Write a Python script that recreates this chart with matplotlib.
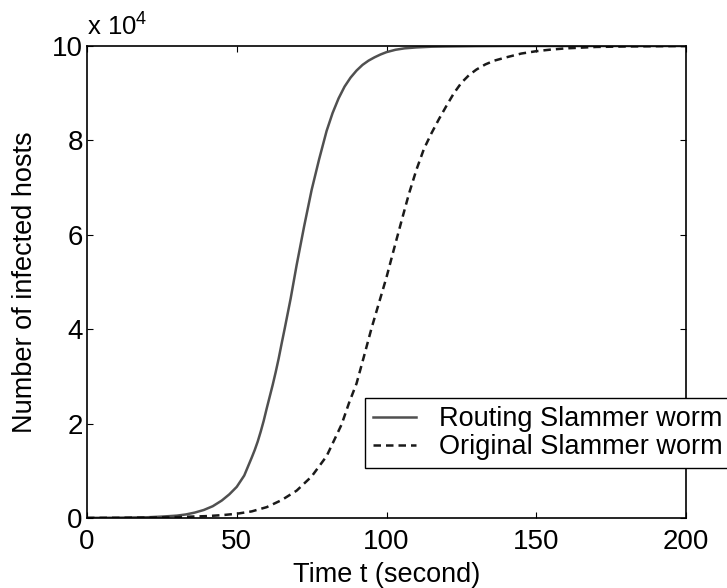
import matplotlib
matplotlib.use("Agg")
import matplotlib.pyplot as plt
from matplotlib.ticker import FuncFormatter

plt.rcParams['font.family'] = ['Liberation Sans', 'DejaVu Sans']
plt.rcParams['mathtext.fontset'] = 'custom'
plt.rcParams['mathtext.rm'] = 'Liberation Sans'
plt.rcParams['mathtext.it'] = 'Liberation Sans'

# ---- data ----
t_routing = [0, 10, 20, 25, 30, 33, 36, 39, 42, 45, 47.5, 50, 52.5, 55, 56, 57, 58, 59,
             60, 61, 62, 63, 64, 65, 66, 67, 68, 70, 72.5, 75, 77.5, 80, 82, 84, 86, 88,
             90, 92, 94, 96, 98, 100, 103, 106, 110, 115, 120, 130, 140, 160, 180, 200]
hosts_routing = [20, 60, 150, 300, 500, 750, 1150, 1700, 2500, 3700, 5000, 6600, 9000,
                 12800, 14400, 16200, 18300, 20600, 23200, 25700, 28200, 30900, 33800,
                 37000, 40100, 43300, 46500, 53600, 61800, 69500, 76000, 82000, 85800,
                 88900, 91400, 93300, 94800, 96000, 96900, 97600, 98200, 98700, 99200,
                 99500, 99700, 99850, 99900, 99970, 100000, 100000, 100000, 100000]

t_original = [0, 10, 20, 30, 40, 45, 50, 55, 60, 65, 70, 75, 80, 85, 87.5, 90, 92.5,
              95, 97.5, 100, 102.5, 105, 107.5, 110, 112.5, 115, 117.5, 120, 122.5, 125,
              127.5, 130, 133, 136, 140, 145, 150, 155, 160, 170, 180, 200]
hosts_original = [20, 40, 100, 200, 400, 600, 900, 1400, 2300, 3800, 5800, 8800, 13100,
                  19800, 24400, 28500, 34300, 40200, 45600, 51000, 57000, 62900, 68700,
                  73800, 78200, 81500, 84500, 87300, 90000, 92200, 93800, 95000, 96100,
                  96900, 97600, 98400, 98900, 99250, 99500, 99800, 99900, 100000]

labels = ['Routing Slammer worm', 'Original Slammer worm']
x_ticks = [0, 50, 100, 150, 200]
y_ticks = [0, 20000, 40000, 60000, 80000, 100000]

fs = 19.5
fig = plt.figure(figsize=(7.27, 5.88), dpi=100)
ax = fig.add_axes([87/727, 70/588, (686-87)/727, (518-46)/588])

ax.plot(t_routing, hosts_routing, color='#505050', lw=1.8, label=labels[0])
ax.plot(t_original, hosts_original, color='#1a1a1a', lw=1.8, dashes=(3.0, 2.0),
        label=labels[1])

ax.set_xlim(0, 200)
ax.set_ylim(0, 100000)
ax.set_xticks(x_ticks)
ax.set_yticks(y_ticks)
ax.yaxis.set_major_formatter(FuncFormatter(lambda v, p: f"{v/1e4:g}"))
ax.tick_params(direction='in', length=4.3, width=0.8, top=True, right=True,
               labelsize=20, colors='black')
ax.tick_params(axis='x', pad=8)
ax.tick_params(axis='y', pad=3)
for s in ax.spines.values():
    s.set_linewidth(1.2)
    s.set_color('black')

ax.text(0.0, 1.012, r'x 10$^{4}$', transform=ax.transAxes, fontsize=18.5,
        ha='left', va='bottom')

ax.set_xlabel('Time t (second)', fontsize=fs, labelpad=5)
ax.set_ylabel('Number of infected hosts', fontsize=fs, labelpad=10)

leg = ax.legend(loc='upper left', bbox_to_anchor=((365-87)/599, (518-398)/472),
                fontsize=fs, frameon=True, fancybox=False, framealpha=1,
                edgecolor='black', borderpad=0.3, labelspacing=0.08,
                handlelength=1.6, handletextpad=0.85, borderaxespad=0)
leg.get_frame().set_linewidth(1.0)

fig.savefig('out.png', dpi=100)
